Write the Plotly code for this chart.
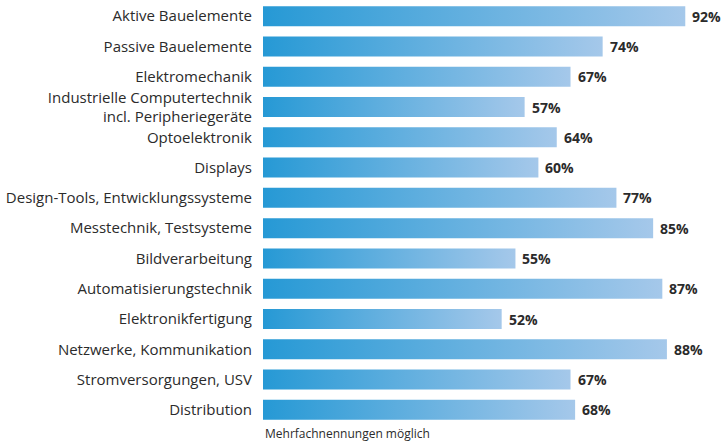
import plotly.graph_objects as go

categories = [
    "Aktive Bauelemente",
    "Passive Bauelemente",
    "Elektromechanik",
    "Industrielle Computertechnik<br>incl. Peripheriegeräte",
    "Optoelektronik",
    "Displays",
    "Design-Tools, Entwicklungssysteme",
    "Messtechnik, Testsysteme",
    "Bildverarbeitung",
    "Automatisierungstechnik",
    "Elektronikfertigung",
    "Netzwerke, Kommunikation",
    "Stromversorgungen, USV",
    "Distribution",
]
values = [92, 74, 67, 57, 64, 60, 77, 85, 55, 87, 52, 88, 67, 68]
footnote = "Mehrfachnennungen möglich"

HALF = 0.33
FONT = "Open Sans"
TXT = "#2b2b2b"
fig = go.Figure()
for i, v in enumerate(values):
    fig.add_trace(go.Scatter(
        x=[0, v, v, 0, 0],
        y=[i - HALF, i - HALF, i + HALF, i + HALF, i - HALF],
        mode="lines", line=dict(width=0),
        fill="toself",
        fillgradient=dict(type="horizontal",
                          colorscale=[[0, "rgb(38,153,213)"], [1, "rgb(165,200,234)"]]),
        hoverinfo="skip", showlegend=False,
    ))
    fig.add_annotation(
        x=v, y=i, xref="x", yref="y", text=f"<b>{v}%</b>", showarrow=False,
        xanchor="left", yanchor="middle", xshift=5,
        font=dict(family=FONT, size=14, color=TXT),
    )

fig.add_annotation(
    x=0, y=13.5, xref="x", yref="y", text=footnote, showarrow=False,
    xanchor="left", yanchor="top", yshift=2,
    font=dict(family=FONT, size=12, color=TXT),
)

fig.update_layout(
    width=723, height=441,
    margin=dict(l=263, r=1, t=1, b=16, autoexpand=False),
    paper_bgcolor="white", plot_bgcolor="white",
    font=dict(family=FONT, size=15, color=TXT),
    xaxis=dict(range=[0, 100], visible=False, fixedrange=True),
    yaxis=dict(range=[13.5, -0.5], tickmode="array", automargin=False,
               tickvals=list(range(len(categories))), ticktext=categories,
               showgrid=False, zeroline=False, showline=False, ticks="",
               ticklabelstandoff=10, fixedrange=True,
               tickfont=dict(family=FONT, size=15, color=TXT)),
)

fig.write_html("out.html", config={"displayModeBar": False},
               post_script="document.body.style.margin='0px';")
